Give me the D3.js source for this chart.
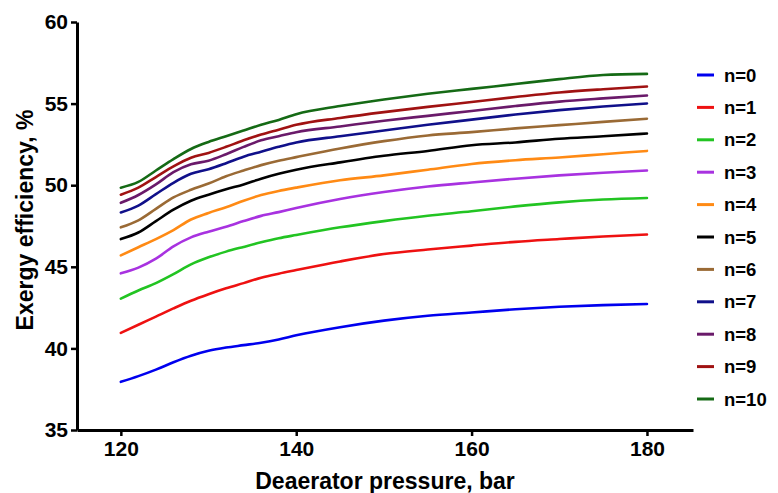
<!DOCTYPE html>
<html><head><meta charset="utf-8">
<script src="https://cdn.jsdelivr.net/npm/d3@7"></script>
<style>body{margin:0;background:#fff}svg{display:block}text{font-family:"Liberation Sans",Arial,sans-serif;font-weight:bold;fill:#000}</style>
</head><body><svg id="c" width="778" height="493"></svg>
<script>
const pressure = [120,122,124,126,128,130,132,134,136,138,140,145,150,155,160,165,170,175,180];
const seriesNames = ["n=0","n=1","n=2","n=3","n=4","n=5","n=6","n=7","n=8","n=9","n=10"];
const n0  = [37.95,38.3,38.7,39.15,39.55,39.85,40.05,40.2,40.35,40.55,40.8,41.3,41.7,42.0,42.2,42.4,42.55,42.65,42.72];
const n1  = [40.95,41.45,41.95,42.45,42.92,43.32,43.68,44.0,44.33,44.58,44.8,45.33,45.78,46.06,46.3,46.53,46.7,46.86,46.98];
const n2  = [43.05,43.55,44.0,44.55,45.15,45.58,45.93,46.22,46.5,46.75,46.95,47.42,47.8,48.13,48.4,48.7,48.95,49.12,49.22];
const n3  = [44.6,44.95,45.5,46.25,46.8,47.15,47.45,47.8,48.12,48.35,48.6,49.15,49.58,49.92,50.17,50.4,50.6,50.76,50.9];
const n4  = [45.7,46.2,46.7,47.25,47.9,48.3,48.65,49.05,49.4,49.65,49.85,50.3,50.6,50.95,51.3,51.53,51.7,51.9,52.1];
const n5  = [46.7,47.1,47.8,48.5,49.05,49.42,49.75,50.05,50.4,50.7,50.95,51.4,51.8,52.1,52.45,52.62,52.85,53.0,53.17];
const n6  = [47.42,47.85,48.55,49.25,49.72,50.1,50.55,50.9,51.23,51.5,51.72,52.25,52.7,53.05,53.25,53.48,53.68,53.88,54.07];
const n7  = [48.33,48.75,49.45,50.15,50.7,50.98,51.35,51.75,52.05,52.35,52.62,53.0,53.35,53.7,54.02,54.33,54.6,54.82,55.01];
const n8  = [48.92,49.4,50.05,50.8,51.28,51.5,51.9,52.35,52.75,53.0,53.25,53.6,53.95,54.25,54.55,54.85,55.12,55.32,55.5];
const n9  = [49.42,49.85,50.5,51.15,51.68,51.98,52.35,52.75,53.1,53.4,53.7,54.12,54.48,54.8,55.1,55.4,55.68,55.88,56.05];
const n10 = [49.85,50.2,50.9,51.6,52.22,52.65,53.0,53.35,53.7,54.0,54.35,54.85,55.25,55.6,55.9,56.2,56.5,56.75,56.82];
const xTicks = [120,140,160,180];
const yTicks = [35,40,45,50,55,60];
const colors = ["#0000ee","#ee1111","#22c422","#a832e0","#ff8a14","#000000","#9a6a35","#10108a","#6a1a6a","#a01212","#156a15"];

const allSeries = [n0,n1,n2,n3,n4,n5,n6,n7,n8,n9,n10];
const svg = d3.select("#c");
const x = d3.scaleLinear().domain([115,185.25]).range([77,693]);
const y = d3.scaleLinear().domain([35,60]).range([430,22]);

const xAxis = svg.append("g").attr("transform","translate(0,430)")
  .call(d3.axisBottom(x).tickValues(xTicks).tickSize(6).tickPadding(5).tickSizeOuter(0));
const yAxis = svg.append("g").attr("transform","translate(77,0)")
  .call(d3.axisLeft(y).tickValues(yTicks).tickSize(6).tickPadding(3).tickSizeOuter(0));
[xAxis,yAxis].forEach(a=>{
  a.select(".domain").attr("stroke","#000").attr("stroke-width",3);
  a.selectAll(".tick line").attr("stroke","#000").attr("stroke-width",2.5);
  a.selectAll(".tick text").attr("font-size",21).attr("font-family","Liberation Sans, Arial, sans-serif").attr("font-weight","bold").attr("fill","#000");
});
xAxis.selectAll(".tick text").attr("dy","0.71em");

const line = d3.line().x((d,i)=>x(pressure[i])).y(d=>y(d)).curve(d3.curveMonotoneX);
svg.append("g").selectAll("path").data(allSeries).join("path")
  .attr("d",line).attr("fill","none").attr("stroke",(d,i)=>colors[i])
  .attr("stroke-width",2.6).attr("stroke-linejoin","round").attr("stroke-linecap","round");

const ly = d3.scaleLinear().domain([0,10]).range([75,399]);
const lg = svg.append("g");
seriesNames.forEach((nm,i)=>{
  lg.append("line").attr("x1",697).attr("x2",714).attr("y1",ly(i)).attr("y2",ly(i))
    .attr("stroke",colors[i]).attr("stroke-width",3);
  lg.append("text").attr("x",724).attr("y",ly(i)).attr("dy","0.36em").attr("font-size",18.5).text(nm);
});

svg.append("text").attr("x",385).attr("y",489).attr("text-anchor","middle").attr("font-size",23).text("Deaerator pressure, bar");
svg.append("text").attr("transform","translate(33,220) rotate(-90)").attr("text-anchor","middle").attr("font-size",23).text("Exergy efficiency, %");
</script></body></html>
